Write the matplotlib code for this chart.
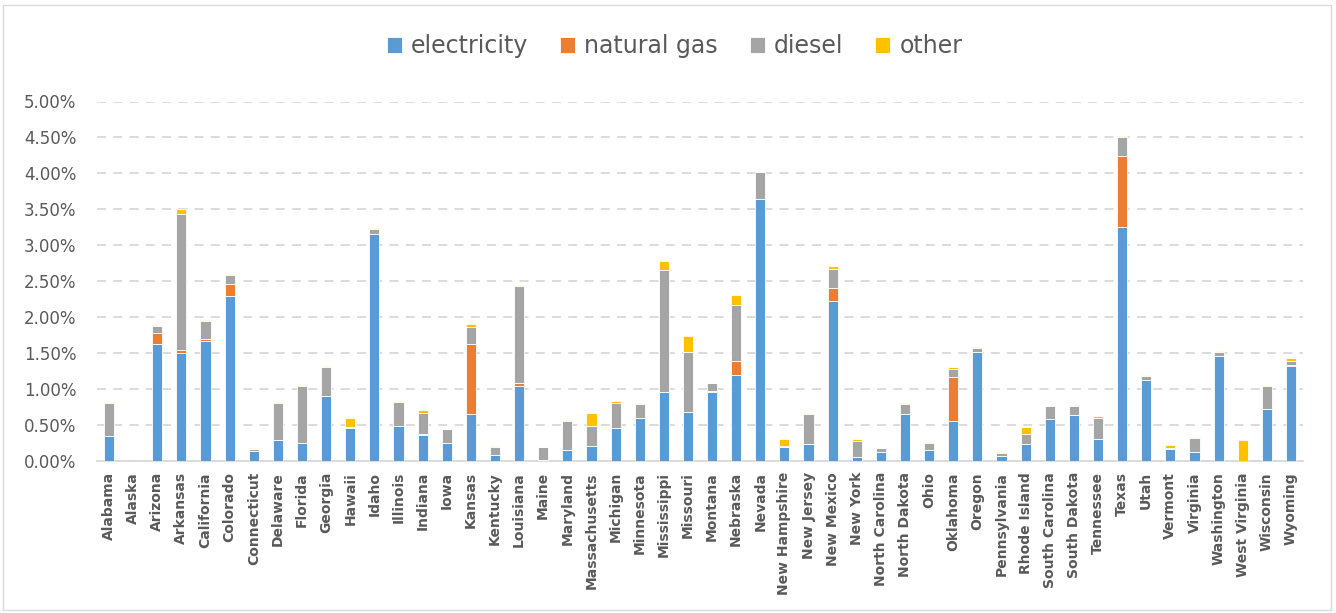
import matplotlib.pyplot as plt
import numpy as np
from matplotlib.patches import Rectangle
from matplotlib.ticker import PercentFormatter

states = ["Alabama", "Alaska", "Arizona", "Arkansas", "California", "Colorado",
          "Connecticut", "Delaware", "Florida", "Georgia", "Hawaii", "Idaho",
          "Illinois", "Indiana", "Iowa", "Kansas", "Kentucky", "Louisiana",
          "Maine", "Maryland", "Massachusetts", "Michigan", "Minnesota",
          "Mississippi", "Missouri", "Montana", "Nebraska", "Nevada",
          "New Hampshire", "New Jersey", "New Mexico", "New York",
          "North Carolina", "North Dakota", "Ohio", "Oklahoma", "Oregon",
          "Pennsylvania", "Rhode Island", "South Carolina", "South Dakota",
          "Tennessee", "Texas", "Utah", "Vermont", "Virginia", "Washington",
          "West Virginia", "Wisconsin", "Wyoming"]

# percent values
electricity = [0.35, 0.00, 1.63, 1.50, 1.67, 2.29, 0.14, 0.29, 0.25, 0.91,
               0.46, 3.16, 0.48, 0.36, 0.25, 0.66, 0.09, 1.05, 0.02, 0.15,
               0.21, 0.46, 0.60, 0.96, 0.68, 0.96, 1.19, 3.65, 0.20, 0.23,
               2.23, 0.05, 0.12, 0.66, 0.15, 0.55, 1.52, 0.065, 0.24, 0.59,
               0.64, 0.30, 3.26, 1.13, 0.16, 0.12, 1.46, 0.00, 0.72, 1.32]
natural_gas = [0.00, 0.00, 0.145, 0.05, 0.02, 0.175, 0.00, 0.00, 0.00, 0.00,
               0.00, 0.00, 0.00, 0.02, 0.00, 0.97, 0.00, 0.04, 0.00, 0.00,
               0.00, 0.00, 0.00, 0.00, 0.00, 0.01, 0.20, 0.00, 0.00, 0.00,
               0.18, 0.00, 0.00, 0.00, 0.00, 0.62, 0.00, 0.00, 0.00, 0.00,
               0.00, 0.00, 0.985, 0.00, 0.00, 0.00, 0.00, 0.00, 0.00, 0.01]
diesel = [0.46, 0.00, 0.105, 1.89, 0.26, 0.115, 0.02, 0.52, 0.80, 0.40,
          0.01, 0.07, 0.34, 0.29, 0.19, 0.24, 0.10, 1.34, 0.17, 0.40,
          0.27, 0.34, 0.195, 1.70, 0.84, 0.11, 0.78, 0.37, 0.015, 0.42,
          0.26, 0.23, 0.055, 0.135, 0.10, 0.11, 0.055, 0.04, 0.14, 0.17,
          0.13, 0.30, 0.26, 0.055, 0.015, 0.20, 0.05, 0.00, 0.325, 0.055]
other = [0.01, 0.00, 0.01, 0.065, 0.01, 0.02, 0.02, 0.01, 0.01, 0.01,
         0.13, 0.01, 0.015, 0.045, 0.01, 0.03, 0.02, 0.02, 0.01, 0.02,
         0.185, 0.03, 0.005, 0.115, 0.225, 0.01, 0.135, 0.00, 0.085, 0.02,
         0.04, 0.03, 0.01, 0.01, 0.02, 0.025, 0.01, 0.02, 0.09, 0.01,
         0.01, 0.03, 0.015, 0.01, 0.045, 0.02, 0.015, 0.29, 0.015, 0.05]

series = [("electricity", electricity, "#5B9BD5"),
          ("natural gas", natural_gas, "#ED7D31"),
          ("diesel", diesel, "#A5A5A5"),
          ("other", other, "#FFC000")]

fig = plt.figure(figsize=(13.36, 6.13), dpi=100)
ax = fig.add_axes([97 / 1336, 1 - 461 / 613, 1206 / 1336, 359.5 / 613])

x = np.arange(len(states))
bottom = np.zeros(len(states))
for name, vals, color in series:
    vals = np.array(vals)
    ax.bar(x, vals, 0.42, bottom=bottom, color=color, label=name,
           edgecolor="white", linewidth=0.6, zorder=3)
    bottom += vals

ax.set_xlim(-0.5, len(states) - 0.5)
ax.set_ylim(0, 5)
ax.set_yticks(np.arange(0, 5.01, 0.5))
ax.yaxis.set_major_formatter(PercentFormatter(decimals=2))
ax.set_xticks(x)
ax.set_xticklabels(states, rotation=90, fontsize=10, fontweight="bold",
                   color="#595959")
ax.tick_params(axis="y", labelsize=12, labelcolor="#595959", length=0, pad=15)
ax.tick_params(axis="x", length=0, pad=8)
ax.grid(axis="y", color="#D9D9D9", linestyle=(0, (5, 4)), linewidth=1.3,
        zorder=0)
for s in ["top", "right", "left"]:
    ax.spines[s].set_visible(False)
ax.spines["bottom"].set_color("#D9D9D9")
ax.spines["bottom"].set_linewidth(1.3)

fig.legend(loc="center", bbox_to_anchor=(0.505, 1 - 46 / 613), ncol=4,
           frameon=False, fontsize=17, handlelength=0.64, handleheight=0.64,
           handletextpad=0.38, columnspacing=1.35, labelcolor="#595959")

fig.patches.append(Rectangle((3 / 1336, 3 / 613), 1328 / 1336, 605 / 613,
                             transform=fig.transFigure, fill=False,
                             edgecolor="#D9D9D9", linewidth=1))

fig.savefig("out.png", dpi=100)
